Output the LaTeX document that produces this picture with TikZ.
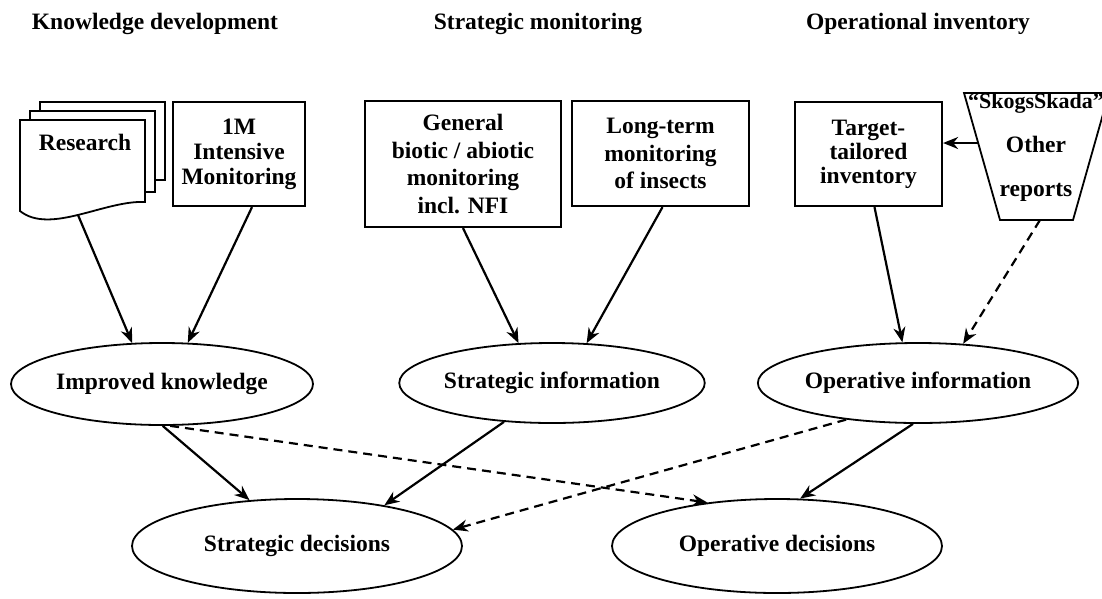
\documentclass[tikz,border=0pt]{standalone}
\usepackage{fontspec}
\setmainfont{Liberation Serif}
\usetikzlibrary{arrows.meta,shapes.geometric}
\begin{document}
\begin{tikzpicture}[x=1pt,y=-1pt,every node/.style={font=\fontsize{23.5}{25}\selectfont\bfseries},
    box/.style={draw,line width=2.2pt,fill=white,align=center,inner sep=0pt},
    oval/.style={draw,ellipse,line width=1.8pt,inner sep=0pt},
    page/.style={draw,line width=1.8pt,fill=white},
    arr/.style={-{Stealth[length=15pt,width=12pt]},line width=2.2pt},
    dasharr/.style={arr,dash pattern=on 9pt off 6pt}]
    \useasboundingbox (0,0) rectangle (1102,598);
    % column titles
    \node (tkd) at (155,24) {Knowledge development};
    \node (tsm) at (538,24) {Strategic monitoring};
    \node (toi) at (918,24) {Operational inventory};
    % research document stack
    \draw[page] (40,102) rectangle (165,180);
    \draw[page] (30,111) rectangle (155,192);
    \draw[page] (20,120) -- (145,120) -- (145,202) .. controls (105,200) and (50,235) .. (20,211) -- cycle;
    \node (res) at (85,142) {Research};
    \coordinate (resbot) at (78,215);
    % sources
    \node[box,minimum width=132pt,minimum height=104pt] (im) at (239,154) {1M\\Intensive\\Monitoring};
    \node[box,minimum width=196pt,minimum height=126pt,font=\fontsize{23.5}{27.5}\selectfont\bfseries] (gen) at (463,164) {General\\biotic / abiotic\\monitoring\\incl. NFI};
    \node[box,minimum width=177pt,minimum height=105pt,font=\fontsize{23.5}{27.5}\selectfont\bfseries] (ins) at (660.5,153.5) {Long-term\\monitoring\\of insects};
    \node[box,minimum width=147pt,minimum height=104pt,font=\fontsize{23.5}{24}\selectfont\bfseries] (tgt) at (868.5,154) {Target-\\tailored\\inventory};
    % report funnel
    \coordinate (repl) at (978,143);
    \coordinate (repb) at (1040,220);
    \draw[page] (964,93) -- (1109,93) -- (1073,220) -- (1000,220) -- cycle;
    \node[align=center,font=\fontsize{23.5}{44}\selectfont\bfseries] (rep) at (1036,147.5) {{\fontsize{22}{44}\selectfont“SkogsSkada”}\\Other\\reports};
    % information
    \node[oval,minimum width=302pt,minimum height=82pt] (know) at (162,384) {Improved knowledge};
    \node[oval,minimum width=288pt,minimum height=80pt] (sinfo) at (552,383) {Strategic information};
    \node[oval,minimum width=290pt,minimum height=80pt] (oinfo) at (918,383) {Operative information};
    % decisions
    \node[oval,minimum width=330pt,minimum height=94pt] (sdec) at (297,546) {Strategic decisions};
    \node[oval,minimum width=330pt,minimum height=94pt] (odec) at (777,546) {Operative decisions};
    % connectors
    \draw[arr] (resbot) -- (know.126);
    \draw[arr] ([xshift=13pt]im.south) -- (know.58);
    \draw[arr] (gen.south) -- (sinfo.130);
    \draw[arr] ([xshift=2pt]ins.south) -- (sinfo.49);
    \draw[arr] ([xshift=6pt]tgt.south) -- (oinfo.111);
    \draw[arr] (repl) -- ([yshift=11pt]tgt.east);
    \draw[dasharr] (repb) -- (oinfo.41);
    \draw[arr] (know.271) -- (sdec.136);
    \draw[dasharr] (know.281) -- (odec.148);
    \draw[arr] (sinfo.219) -- (sdec.25);
    \draw[dasharr] (oinfo.207) -- (sdec.6);
    \draw[arr] (oinfo.263) -- (odec.64);
\end{tikzpicture}
\end{document}
